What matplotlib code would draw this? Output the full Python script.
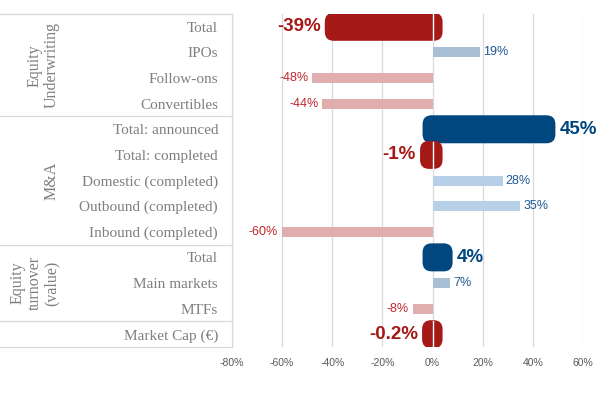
import numpy as np
import matplotlib
matplotlib.use('Agg')
import matplotlib.pyplot as plt
from matplotlib.patches import FancyBboxPatch

categories = ['Total', 'IPOs', 'Follow-ons', 'Convertibles',
    'Total: announced', 'Total: completed', 'Domestic (completed)',
    'Outbound (completed)', 'Inbound (completed)',
    'Total', 'Main markets', 'MTFs', 'Market Cap (€)']
values = [-39, 19, -48, -44, 45, -1, 28, 35, -60, 4, 7, -8, -0.2]
headline = [True, False, False, False, True, True, False, False, False,
    True, False, False, True]
groups = ['Equity\nUnderwriting', 'M&A', 'Equity\nturnover\n(value)', '']
group_rows = [(0, 3), (4, 8), (9, 11), (12, 12)]
ticks = [-80, -60, -40, -20, 0, 20, 40, 60]

dark_red = '#A51A17'
dark_blue = '#00467F'
light_red = '#E0AEAE'
grey_blue = '#A9BFD3'
light_blue = '#B7CFE7'
light_colours = {1: grey_blue, 10: grey_blue, 6: light_blue, 7: light_blue}

W, H = 603, 395
ax_left, ax_right, ax_top, ax_bottom = 232, 583, 14, 347
fig = plt.figure(figsize=(W/100, H/100), dpi=100)
ax = fig.add_axes([ax_left/W, 1 - ax_bottom/H,
    (ax_right - ax_left)/W, (ax_bottom - ax_top)/H])

xmin, xmax = -80, 60
n = len(categories)
ax.set_xlim(xmin, xmax)
ax.set_ylim(n - 0.5, -0.5)

px_x = (ax_right - ax_left) / (xmax - xmin)
px_y = (ax_bottom - ax_top) / n
aspect = px_x / px_y

grid_c = '#D9D9D9'
for t in ticks:
    ax.axvline(t, color=grid_c, lw=0.9, zorder=0)

y = np.arange(n)
for i, v in enumerate(values):
    lab = ('%.1f%%' % v) if v != int(v) else ('%d%%' % v)
    if headline[i]:
        c = dark_red if v < 0 else dark_blue
        core_h = 8 / px_y
        pad = 10 / px_x
        box = FancyBboxPatch((min(0, v), i - core_h/2), abs(v), core_h,
            boxstyle='round,pad=%f,rounding_size=%f' % (pad, 9/px_x),
            mutation_aspect=aspect, fc=c, ec='none', zorder=3)
        ax.add_patch(box)
        if v < 0:
            ax.plot([0, 0], [i - 0.5, i + 0.5], color='white', lw=1, zorder=4)
            ax.text(v - pad - 4/px_x, i, lab, ha='right', va='center',
                color=c, fontsize=13.5, fontweight='bold',
                family='Liberation Sans', zorder=5)
        else:
            ax.text(v + pad + 4/px_x, i, lab, ha='left', va='center',
                color=c, fontsize=13.5, fontweight='bold',
                family='Liberation Sans', zorder=5)
    else:
        c = light_colours.get(i, light_red)
        ax.barh(i, v, height=10/px_y, color=c, zorder=2)
        if v < 0:
            ax.text(v - 4/px_x, i, lab, ha='right', va='center',
                color='#C0262B', fontsize=9, family='Liberation Sans')
        else:
            ax.text(v + 3/px_x, i, lab, ha='left', va='center',
                color='#1F5A96', fontsize=9, family='Liberation Sans')

ax.set_xticks(ticks)
ax.set_xticklabels(['%d%%' % t for t in ticks], color='#595959',
    fontsize=7.5, family='Liberation Sans')
ax.set_yticks(y)
ax.set_yticklabels(categories, color='#7F7F7F', fontsize=11,
    family='Liberation Serif')
ax.tick_params(length=0)
ax.tick_params(axis='x', pad=8)
ax.tick_params(axis='y', pad=10)
for s in ax.spines.values():
    s.set_visible(False)

# table lines on the left
tr = ax.get_yaxis_transform()
x0 = -ax_left / (ax_right - ax_left)
for b in [-0.5, 3.5, 8.5, 11.5, 12.5]:
    ax.plot([x0, 0], [b, b], color=grid_c, lw=0.9, transform=tr,
        clip_on=False)
ax.plot([0, 0], [-0.5, n - 0.5], color=grid_c, lw=0.9, transform=tr,
    clip_on=False)

gx = (60 - ax_left) / (ax_right - ax_left)
for g, (a, b) in zip(groups, group_rows):
    if g:
        ax.text(gx, (a + b) / 2, g, rotation=90, ha='right', va='center',
            multialignment='center', color='#7F7F7F', fontsize=11.5,
            family='Liberation Serif', transform=tr, linespacing=1.1)

fig.savefig('out.png', dpi=100)
